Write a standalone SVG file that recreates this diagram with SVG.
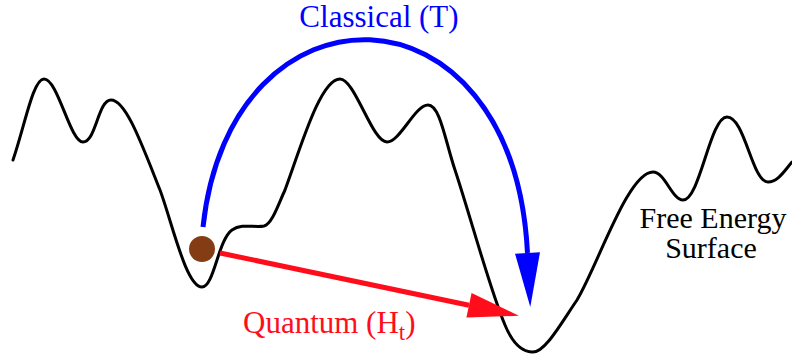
<svg xmlns="http://www.w3.org/2000/svg" width="792" height="361" viewBox="0 0 792 361">
<style>
.surface{fill:none;stroke:#000;stroke-width:3;stroke-linejoin:round;stroke-linecap:round}
text{font-family:'Liberation Serif','Times New Roman','DejaVu Serif',serif;font-size:31px}
text.fes{font-size:30px}
.classical{fill:none;stroke:#0000ff;stroke-width:5}
.quantum{fill:none;stroke:#ff0d1a;stroke-width:5}
</style>
<defs>
<marker id="headBlue" markerUnits="userSpaceOnUse" markerWidth="54" markerHeight="26" refX="0" refY="12.5" orient="auto" overflow="visible">
<path d="M0,0 L54,12.5 L0,25 Z" fill="#0000ff"/>
</marker>
<marker id="headRed" markerUnits="userSpaceOnUse" markerWidth="52" markerHeight="26" refX="0" refY="12.5" orient="auto" overflow="visible">
<path d="M0,0 L51,12.5 L0,25 Z" fill="#ff0d1a"/>
</marker>
</defs>
<rect width="792" height="361" fill="#fff"/>
<g id="surface">
<path class="surface" d="M13,160 C25,125 33,79 44,79 C58,79 70,142 83,142 C96,142 98,100 111,100 C126,100 142,145 160,190 C172,222 186,287 202,287 C214,287 218,240 232,230 C242,223 255,228 264,226 C272,224 278,205 285,190 C300,150 320,79 340,79 C355,79 372,142 387,142 C400,142 415,105 428,105 C440,105 445,140 455,170 C470,215 490,290 505,325 C512,342 522,352 533,352 C545,352 560,325 577,300 C598,265 628,172 653,172 C665,172 672,200 683,200 C700,200 710,117 727,117 C745,117 752,182 768,182 C778,182 785,170 792,162"/>
<text class="fes" x="713" y="228" text-anchor="middle" fill="#000">Free Energy</text>
<text class="fes" x="711" y="258" text-anchor="middle" fill="#000">Surface</text>
</g>
<g id="connectors">
<path id="classical-arrow" class="classical" d="M203,227 C230,-27 513,-27 527.5,253" marker-end="url(#headBlue)"/>
<path id="quantum-arrow" class="quantum" d="M220,253 L469,305.3" marker-end="url(#headRed)"/>
</g>
<g id="particle">
<circle cx="202" cy="249" r="13" fill="#843c14"/>
</g>
<g id="label-classical">
<text x="379" y="27" text-anchor="middle" fill="#0000ff">Classical (T)</text>
</g>
<g id="label-quantum">
<text x="243" y="333" fill="#ff0d1a">Quantum (H<tspan font-size="23" dy="7">t</tspan><tspan dy="-7">)</tspan></text>
</g>
</svg>
